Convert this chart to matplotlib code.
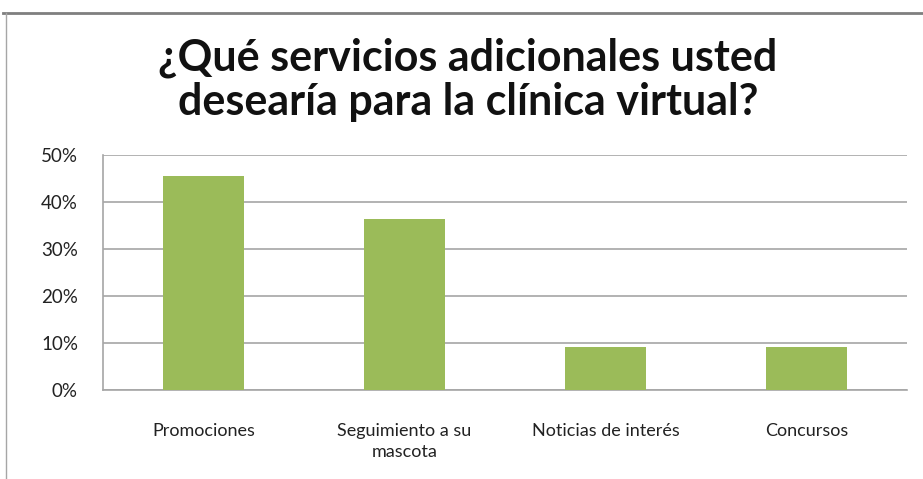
import matplotlib
matplotlib.use("Agg")
import matplotlib.pyplot as plt
from matplotlib.ticker import PercentFormatter
from matplotlib.lines import Line2D

categories = ["Promociones", "Seguimiento a su\nmascota", "Noticias de interés", "Concursos"]
values = [5/11, 4/11, 1/11, 1/11]
yticks = [0, 0.1, 0.2, 0.3, 0.4, 0.5]
title = "¿Qué servicios adicionales usted\ndesearía para la clínica virtual?"

W, H = 923, 479
fig = plt.figure(figsize=(W/100, H/100), dpi=100)
fig.patch.set_facecolor("white")

ax = fig.add_axes([103/W, 1 - 390/H, (907-103)/W, (390-155)/H])
x = range(len(categories))
ax.bar(x, values, width=0.4, color="#9BBB59", zorder=3)
ax.set_xlim(-0.5, len(categories) - 0.5)
ax.set_ylim(0, 0.5)
ax.set_yticks(yticks)
ax.yaxis.set_major_formatter(PercentFormatter(1.0, decimals=0))
ax.set_xticks(list(x))
ax.set_xticklabels(categories, fontsize=13, family="Lato", color="#222222", linespacing=1.35)
for lbl in ax.get_yticklabels():
    lbl.set_fontsize(13.5)
    lbl.set_family("Lato")
    lbl.set_color("#222222")
ax.tick_params(axis="both", length=0)
ax.tick_params(axis="y", pad=18)
ax.tick_params(axis="x", pad=24)
ax.grid(axis="y", color="#A6A6A6", linewidth=1.2, zorder=0)
for s in ["top", "right"]:
    ax.spines[s].set_visible(False)
for s in ["left", "bottom"]:
    ax.spines[s].set_color("#A6A6A6")
    ax.spines[s].set_linewidth(1.2)

fig.text(468/W, 1 - 80/H, title, ha="center", va="center", fontsize=31, fontweight="bold",
         family="Lato", color="#111111", linespacing=1.12)

# outer chart-area border (top and left)
fig.add_artist(Line2D([3/W, 1], [1 - 13/H, 1 - 13/H], color="#7F7F7F", linewidth=2, transform=fig.transFigure))
fig.add_artist(Line2D([6/W, 6/W], [0, 1 - 13/H], color="#A6A6A6", linewidth=1, transform=fig.transFigure))

fig.savefig("out.png", dpi=100, facecolor="white")
